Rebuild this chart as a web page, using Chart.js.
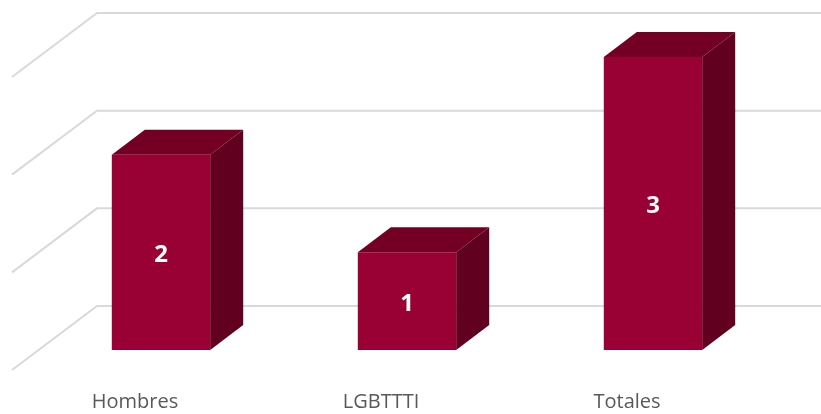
<!DOCTYPE html>
<html>
<head>
<meta charset="utf-8">
<script src="https://cdn.jsdelivr.net/npm/chart.js@4/dist/chart.umd.min.js"></script>
<style>
  html, body { margin: 0; padding: 0; background: #fff; }
  canvas { display: block; }
</style>
</head>
<body>
<canvas id="chart" width="821" height="414"></canvas>
<script>
// данные
const categories = ['Hombres', 'LGBTTTI', 'Totales'];
const values = [2, 1, 3];
const gridValues = [0, 1, 2, 3];

// глубина 3D: смещение граней столбца, задней стенки и переднего края пола
const barDepth = { dx: 33, dy: 25 };
const wallDepth = { dx: 59, dy: 44 };
const floorFront = { dx: -26, dy: 20 };

const frontColor = '#990033';
const topColor = '#730024';
const sideColor = '#61001f';

const grid3d = {
    id: 'grid3d',
    beforeDatasetsDraw(chart) {
        const { ctx, scales: { y }, chartArea } = chart;
        ctx.save();
        ctx.strokeStyle = '#d9d9d9';
        ctx.lineWidth = 2;
        gridValues.forEach(v => {
            const py = y.getPixelForValue(v);
            const bx = chartArea.left + wallDepth.dx;
            const by = py - wallDepth.dy;
            ctx.beginPath();
            ctx.moveTo(chartArea.left + floorFront.dx, py + floorFront.dy);
            ctx.lineTo(bx, by);
            ctx.lineTo(chart.width, by);
            ctx.stroke();
        });
        ctx.restore();
    },
    afterDatasetsDraw(chart) {
        const { ctx } = chart;
        const meta = chart.getDatasetMeta(0);
        ctx.save();
        meta.data.forEach((bar, i) => {
            const { x, y, base, width } = bar.getProps(['x', 'y', 'base', 'width'], true);
            const l = x - width / 2, r = x + width / 2;
            const { dx, dy } = barDepth;
            // верхняя грань
            ctx.fillStyle = topColor;
            ctx.beginPath();
            ctx.moveTo(l, y);
            ctx.lineTo(l + dx, y - dy);
            ctx.lineTo(r + dx, y - dy);
            ctx.lineTo(r, y);
            ctx.closePath();
            ctx.fill();
            // боковая грань
            ctx.fillStyle = sideColor;
            ctx.beginPath();
            ctx.moveTo(r, y);
            ctx.lineTo(r + dx, y - dy);
            ctx.lineTo(r + dx, base - dy);
            ctx.lineTo(r, base);
            ctx.closePath();
            ctx.fill();

            // подпись значения
            ctx.fillStyle = '#ffffff';
            ctx.font = 'bold 24px "Open Sans"';
            ctx.textAlign = 'center';
            ctx.textBaseline = 'middle';
            ctx.fillText(String(values[i]), x, (y + base) / 2 + 3);

            // подпись категории на переднем краю пола
            ctx.fillStyle = '#595959';
            ctx.font = '20px "Open Sans"';
            ctx.textBaseline = 'alphabetic';
            ctx.fillText(categories[i], x + floorFront.dx, base + 58);
        });
        ctx.restore();
    }
};

new Chart(document.getElementById('chart').getContext('2d'), {
    type: 'bar',
    data: {
        labels: categories,
        datasets: [{
            data: values,
            backgroundColor: frontColor,
            borderWidth: 0,
            categoryPercentage: 1,
            barPercentage: 0.4
        }]
    },
    options: {
        responsive: false,
        animation: false,
        layout: { padding: { left: 38, right: 45, top: 57, bottom: 64 } },
        plugins: { legend: { display: false }, tooltip: { enabled: false } },
        scales: {
            x: { display: false },
            y: { display: false, min: 0, max: 3 }
        }
    },
    plugins: [grid3d]
});
</script>
</body>
</html>
